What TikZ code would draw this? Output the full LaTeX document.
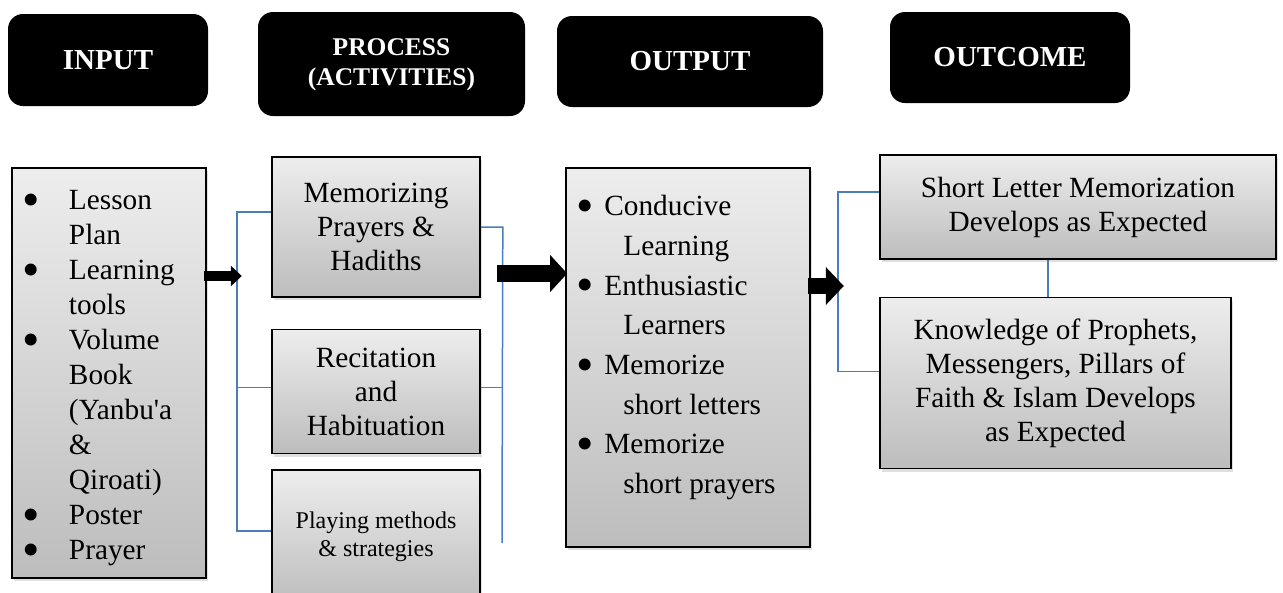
\documentclass[tikz,border=0pt]{standalone}
\usepackage{fontspec}
\setmainfont{Liberation Serif}[Ligatures=TeXOff]
\usepackage{graphicx}
\usepackage{tikz}
\usetikzlibrary{arrows.meta,shadows,positioning,calc}
\definecolor{linkblue}{HTML}{4A7EBB}
\newcommand{\bul}[1]{\makebox[#1][l]{\smash{\raisebox{-6.5pt}{\scalebox{1.7}{\textbullet}}}}}
\newcommand{\ind}[1]{\hspace*{#1}}
\tikzset{
    header/.style={
    rectangle,rounded corners=15pt,fill=black,text=white,inner sep=0pt,align=center,
    font=\bfseries\fontsize{29}{30}\selectfont
    },
    gbox/.style={
    rectangle,draw=black,line width=1.6pt,top color=gray!14,bottom color=gray!52,inner sep=0pt,
    drop shadow={opacity=0.25,shadow xshift=1.5pt,shadow yshift=-3pt},
    align=center,font=\fontsize{29.3}{34}\selectfont
    },
    listtext/.style={
    inner sep=0pt,align=left,font=\fontsize{29.3}{39.7}\selectfont
    },
    link/.style={
    draw=linkblue,line width=1.5pt
    },
    fatarrow/.style n args={3}{
    draw=black,line width=#1,-{Triangle[length=#2,width=#3]}
    },
}
\begin{document}
\begin{tikzpicture}[x=1pt,y=-1pt]
   \useasboundingbox (0,0) rectangle (1283,592);
   \clip (0,0) rectangle (1283,592);

   \node[header,minimum width=200pt,minimum height=92pt]  (hIN)  at (108,60)    {INPUT};
   \node[header,minimum width=267pt,minimum height=104pt,font=\bfseries\fontsize{25.5}{30}\selectfont]
                                                           (hPR)  at (391.5,64)
     {\raisebox{-4pt}{\begin{tabular}{@{}c@{}}PROCESS\\(ACTIVITIES)\end{tabular}}};
   \node[header,minimum width=266pt,minimum height=91pt]  (hOUT) at (690,61.5)  {\raisebox{-2pt}{OUTPUT}};
   \node[header,minimum width=240pt,minimum height=91pt]  (hOC)  at (1010,57.5) {OUTCOME};

   \node[gbox,minimum width=194pt,minimum height=410pt,text width=174pt,inner xsep=10pt,align=left,
         font=\fontsize{29.3}{35}\selectfont] (IN) at (109,373)
     {\rule{0pt}{30pt}\bul{47pt}Lesson\\ \ind{47pt}Plan\\ \bul{47pt}Learning\\ \ind{47pt}tools\\
      \bul{47pt}Volume\\ \ind{47pt}Book\\ \ind{47pt}(Yanbu'a\\ \ind{47pt}\&\\ \ind{47pt}Qiroati)\\
      \bul{47pt}Poster\\ \bul{47pt}Prayer};

   \node[gbox,minimum width=208pt,minimum height=140pt] (P1) at (376,227) {Memorizing\\Prayers \&\\Hadiths};
   \node[gbox,minimum width=208pt,minimum height=124pt] (P2) [below=31pt of P1] {Recitation\\and\\Habituation};
   \node[gbox,minimum width=208pt,minimum height=134pt,font=\fontsize{24}{28}\selectfont]
                                                        (P3) [below=15pt of P2] {Playing methods\\\& strategies};

   \node[gbox,minimum width=244pt,minimum height=379pt] (OUT) at (688,357.5) {};
   \node[listtext,anchor=north west] (OUTlist) at ([xshift=11pt,yshift=-28pt]OUT.north west)
     {\bul{28pt}Conducive\\ \ind{47pt}Learning\\ \bul{28pt}Enthusiastic\\ \ind{47pt}Learners\\
      \bul{28pt}Memorize\\ \ind{47pt}short letters\\ \bul{28pt}Memorize\\ \ind{47pt}short prayers};

   \node[gbox,minimum width=396pt,minimum height=104pt] (O1) at (1078,207)
     {Short Letter Memorization\\Develops as Expected};
   \node[gbox,minimum width=351pt,minimum height=171pt] (O2) [below=37pt of O1.south west,anchor=north west]
     {Knowledge of Prophets,\\Messengers, Pillars of\\Faith \& Islam Develops\\as Expected};

   \coordinate (rEnd) at (502,543);

   \draw[link] ([yshift=15pt]P1.west) -- ++(-34,0) |- ([yshift=6pt]P3.west);
   \draw[link] ([yshift=4pt]P2.west) -- ++(-34,0);
   \draw[link] (P1.east) -- ++(22,0) -- (rEnd);
   \draw[link] ([yshift=4pt]P2.east) -- ++(22,0);
   \draw[link] ([yshift=15pt]O1.west) -- ++(-41,0) |- ([yshift=11.5pt]O2.west);
   \draw[link] ([xshift=-30pt]O1.south) -- ([xshift=-30pt]O1.south |- O2.north);

   \draw[fatarrow={10pt}{11pt}{20pt}] ([xshift=-3pt,yshift=97pt]IN.east) -- ++(38,0);
   \draw[fatarrow={17pt}{17pt}{36pt}] ([xshift=-68pt,yshift=84pt]OUT.west) -- ([xshift=2pt,yshift=84pt]OUT.west);
   \draw[fatarrow={16pt}{18pt}{37pt}] ([xshift=-3pt,yshift=71.5pt]OUT.east) -- ++(36,0);
\end{tikzpicture}
\end{document}
